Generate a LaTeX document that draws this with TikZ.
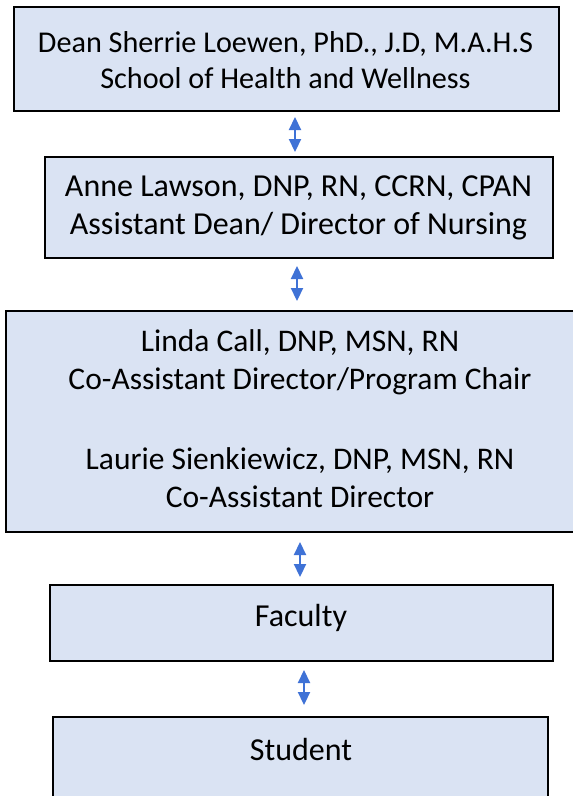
\documentclass[tikz,border=0pt]{standalone}
\usepackage{fontspec}
\setmainfont{Carlito}
\usetikzlibrary{arrows.meta}
\definecolor{boxfill}{HTML}{DAE3F3}
\definecolor{arrblue}{HTML}{3F72D6}
\tikzset{
  orgbox/.style={draw=black, line width=2.6pt, fill=boxfill, inner sep=0pt},
  lbl/.style={align=center, font=\fontsize{32}{38}\selectfont, inner sep=0pt},
  lblmid/.style={align=center, font=\fontsize{31.5}{38}\selectfont, inner sep=0pt},
  lblsmall/.style={align=center, font=\fontsize{30.2}{36}\selectfont, inner sep=0pt},
  dbl/.style={draw=arrblue, line width=2.2pt,
    {Triangle[width=12pt,length=13pt]}-{Triangle[width=12pt,length=13pt]}}
}
\begin{document}
\begin{tikzpicture}[x=1pt,y=-1pt]
\useasboundingbox (0,0) rectangle (573,796);
\clip (0,0) rectangle (573,796);
\node[orgbox, minimum width=545pt, minimum height=104pt] (b1) at (286.5,59) {};
\node[lblsmall] (t1) at (285.5,60) {Dean Sherrie Loewen, PhD., J.D, M.A.H.S\\School of Health and Wellness};
\node[orgbox, minimum width=508pt, minimum height=101pt] (b2) at (299,207.5) {};
\node[lbl] (t2) at (298.5,208) {Anne Lawson, DNP, RN, CCRN, CPAN\\Assistant Dean/ Director of Nursing};
\node[orgbox, minimum width=592pt, minimum height=221pt] (b3) at (302,421.5) {};
\node[lblmid] (t3) at (300,419) {Linda Call, DNP, MSN, RN\\Co-Assistant Director/Program Chair\\[42pt]Laurie Sienkiewicz, DNP, MSN, RN\\Co-Assistant Director};
\node[orgbox, minimum width=503pt, minimum height=76pt] (b4) at (301.5,623) {};
\node[lbl] (t4) at (301,618) {Faculty};
\node[orgbox, minimum width=495pt, minimum height=100pt] (b5) at (300.5,767) {};
\node[lbl] (t5) at (301,749) {Student};
\coordinate (a1s) at (295,117); \coordinate (a1e) at (295,152);
\coordinate (a2s) at (297,266); \coordinate (a2e) at (297,301);
\coordinate (a3s) at (300,542); \coordinate (a3e) at (300,577);
\coordinate (a4s) at (304,670); \coordinate (a4e) at (304,705);
\draw[dbl] (a1s) -- (a1e);
\draw[dbl] (a2s) -- (a2e);
\draw[dbl] (a3s) -- (a3e);
\draw[dbl] (a4s) -- (a4e);
\end{tikzpicture}
\end{document}
